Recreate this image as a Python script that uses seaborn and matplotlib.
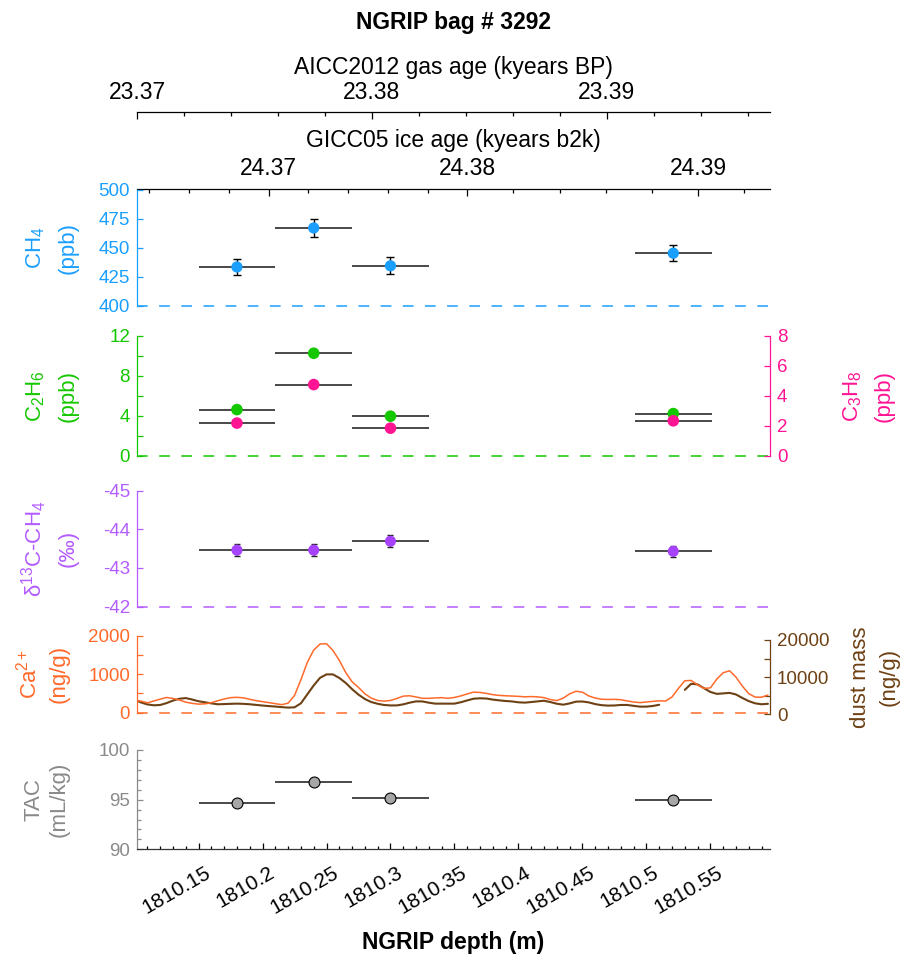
import numpy as np
import pandas as pd
import matplotlib
matplotlib.use("Agg")
import matplotlib.pyplot as plt
import matplotlib.transforms as mtransforms
import seaborn as sns
from matplotlib.ticker import MultipleLocator

# ---------------- data ----------------
bag_top = [1810.15, 1810.21, 1810.27, 1810.491]
bag_bottom = [1810.21, 1810.27, 1810.33, 1810.551]
ch4 = [433.5, 467.0, 434.5, 445.3]
ch4_err = [7.0, 7.5, 7.2, 7.0]
c2h6 = [4.63, 10.25, 3.97, 4.23]
c3h8 = [2.19, 4.75, 1.85, 2.34]
d13c = [-43.46, -43.46, -43.69, -43.43]
d13c_err = [0.15, 0.15, 0.15, 0.15]
tac = [94.63, 96.75, 95.20, 94.96]

cfa_depth = [
    1810.100, 1810.105, 1810.110, 1810.115, 1810.120, 1810.125, 1810.130, 1810.135, 1810.140, 1810.145,
    1810.150, 1810.155, 1810.160, 1810.165, 1810.170, 1810.175, 1810.180, 1810.185, 1810.190, 1810.195,
    1810.200, 1810.205, 1810.210, 1810.215, 1810.220, 1810.225, 1810.230, 1810.235, 1810.240, 1810.245,
    1810.250, 1810.255, 1810.260, 1810.265, 1810.270, 1810.275, 1810.280, 1810.285, 1810.290, 1810.295,
    1810.300, 1810.305, 1810.310, 1810.315, 1810.320, 1810.325, 1810.330, 1810.335, 1810.340, 1810.345,
    1810.350, 1810.355, 1810.360, 1810.365, 1810.370, 1810.375, 1810.380, 1810.385, 1810.390, 1810.395,
    1810.400, 1810.405, 1810.410, 1810.415, 1810.420, 1810.425, 1810.430, 1810.435, 1810.440, 1810.445,
    1810.450, 1810.455, 1810.460, 1810.465, 1810.470, 1810.475, 1810.480, 1810.485, 1810.490, 1810.495,
    1810.500, 1810.505, 1810.510, 1810.515, 1810.520, 1810.525, 1810.530, 1810.535, 1810.540, 1810.545,
    1810.550, 1810.555, 1810.560, 1810.565, 1810.570, 1810.575, 1810.580, 1810.585, 1810.590, 1810.595,
]
ca = [
    323, 297, 253, 301, 349, 393, 367, 327, 271, 240,
    218, 227, 258, 306, 354, 388, 397, 384, 345, 310,
    284, 258, 231, 205, 244, 445, 856, 1310, 1633, 1790,
    1798, 1624, 1362, 1048, 803, 655, 489, 375, 314, 297,
    314, 367, 428, 437, 406, 371, 371, 380, 388, 371,
    393, 434, 486, 533, 524, 499, 466, 447, 437, 430,
    422, 410, 416, 410, 388, 338, 311, 375, 487, 556,
    531, 433, 377, 347, 340, 344, 334, 303, 274, 258,
    274, 291, 305, 299, 405, 629, 829, 838, 722, 631,
    643, 873, 1039, 1091, 925, 690, 493, 402, 400, 457,
]
dust = [
    3947, 3193, 2664, 2422, 2512, 3014, 3696, 4180, 4368, 3974,
    3516, 3229, 2942, 2700, 2754, 2817, 2870, 2817, 2700, 2530,
    2359, 2207, 2090, 1929, 1803, 1875, 2960, 5364, 7768, 9831,
    10746, 10746, 9786, 8450, 6763, 5301, 4108, 3301, 2826, 2503,
    2386, 2395, 2682, 3131, 3480, 3462, 3122, 2870, 2870, 2870,
    2870, 3247, 3740, 4198, 4306, 4243, 3956, 3749, 3579, 3462,
    3229, 3140, 3301, 3480, 3651, 3292, 2843, 2592, 2933, 3409,
    3444, 3202, 2745, 2458, 2341, 2377, 2512, 2512, 2278, 2063,
    2063, 2243, 2556, np.nan, np.nan, np.nan, 6575, 8217, 8046, 7032,
    6019, 5499, 5624, 5768, 5337, 4395, 3552, 2951, 2700, 2826,
]

depth_ticks = [1810.15, 1810.20, 1810.25, 1810.30, 1810.35, 1810.40, 1810.45, 1810.50, 1810.55]
depth_ticklabels = ["1810.15", "1810.2", "1810.25", "1810.3", "1810.35",
                    "1810.4", "1810.45", "1810.5", "1810.55"]
ice_ticks = [24.37, 24.38, 24.39]
gas_ticks = [23.37, 23.38, 23.39]
ice_tie_depth = [1810.10, 1810.36, 1810.60]
ice_tie_age = [24.36326, 24.38, 24.39330]
gas_tie_depth = [1810.10, 1810.60]
gas_tie_age = [23.36990, 23.39713]

# ---------------- style ----------------
sns.set_theme(style="white")
plt.rcParams["font.family"] = ["Liberation Sans", "DejaVu Sans"]
plt.rcParams["mathtext.fontset"] = "custom"
plt.rcParams["mathtext.rm"] = "Liberation Sans"
plt.rcParams["mathtext.it"] = "Liberation Sans:italic"
plt.rcParams["mathtext.bf"] = "Liberation Sans:bold"
plt.rcParams["mathtext.default"] = "regular"
plt.rcParams["axes.unicode_minus"] = False
plt.rcParams["text.color"] = "black"
plt.rcParams["axes.labelcolor"] = "black"
plt.rcParams["xtick.color"] = "black"
plt.rcParams["ytick.color"] = "black"

BLUE = "#1a9fff"
GREEN = "#14c800"
PINK = "#ff1493"
PURPLE = "#a742ff"
PURPLE_AX = "#b35cff"
ORANGE = "#ff6a2a"
BROWN = "#6e4114"
GRAY = "#8a8a8a"
BAR = "#2a2a2a"

XLIM = (1810.1019, 1810.5966)
TICK_FS = 13.5
LAB_FS = 16
TOP_FS = 16.5
LSP = 1.65

fig = plt.figure(figsize=(9.01, 9.58), dpi=100)
L, W = 137 / 901, 633 / 901


def box(top_px, bot_px):
    return [L, 1 - bot_px / 958, W, (bot_px - top_px) / 958]


def style_left(ax, color, ylim):
    for s in ["top", "right", "bottom"]:
        ax.spines[s].set_visible(False)
    ax.spines["left"].set_color(color)
    ax.spines["left"].set_linewidth(0.9)
    ax.set_xlim(XLIM)
    ax.set_ylim(ylim)
    ax.tick_params(axis="y", which="both", colors=color, direction="in", left=True,
                   labelsize=TICK_FS, pad=5)
    ax.tick_params(axis="y", which="major", length=4.5, width=0.9)
    ax.tick_params(axis="y", which="minor", length=4.5, width=0.9)
    ax.tick_params(axis="x", which="both", bottom=False, labelbottom=False)
    ax.set_xlabel("")
    ax.patch.set_alpha(0)


def style_right(ax, color, ylim):
    for s in ["top", "left", "bottom"]:
        ax.spines[s].set_visible(False)
    ax.spines["right"].set_visible(True)
    ax.spines["right"].set_color(color)
    ax.spines["right"].set_linewidth(0.9)
    ax.set_ylim(ylim)
    ax.yaxis.set_ticks_position("right")
    ax.yaxis.set_label_position("right")
    ax.tick_params(axis="y", which="both", colors=color, direction="in", right=True,
                   left=False, labelleft=False, labelright=True, labelsize=TICK_FS,
                   pad=5, length=4.5, width=0.9)
    ax.tick_params(axis="x", which="both", bottom=False, labelbottom=False)
    ax.patch.set_alpha(0)


def dashed_base(ax, y, color):
    ax.axhline(y, color=color, lw=1.1, ls=(0, (7, 7.5)), clip_on=False, zorder=1)


bags = pd.DataFrame({
    "depth": [(a + b) / 2 for a, b in zip(bag_top, bag_bottom)],
    "halfw": [(b - a) / 2 for a, b in zip(bag_top, bag_bottom)],
    "ch4": ch4, "ch4_err": ch4_err, "c2h6": c2h6, "c3h8": c3h8,
    "d13c": d13c, "d13c_err": d13c_err, "tac": tac,
})


def hbars(ax, col):
    ax.errorbar(bags["depth"], bags[col], xerr=bags["halfw"], fmt="none",
                ecolor=BAR, elinewidth=1.2, capsize=0, zorder=2)


# ---------------- CH4 ----------------
ax_ch4 = fig.add_axes(box(189.5, 306))
hbars(ax_ch4, "ch4")
ax_ch4.errorbar(bags["depth"], bags["ch4"], yerr=bags["ch4_err"], fmt="none",
                ecolor="black", elinewidth=1.0, capsize=3, capthick=1.0, zorder=3)
sns.scatterplot(data=bags, x="depth", y="ch4", ax=ax_ch4, color=BLUE, s=66,
                edgecolor="none", zorder=4, legend=False)
style_left(ax_ch4, BLUE, (400, 500))
ax_ch4.set_yticks([400, 425, 450, 475, 500])
dashed_base(ax_ch4, 400, BLUE)
ax_ch4.set_ylabel("CH$_4$\n(ppb)", color=BLUE, fontsize=LAB_FS, linespacing=LSP)
ax_ch4.yaxis.set_label_coords(-0.093, 0.5)


def depth_to_ice(d):
    return np.interp(d, ice_tie_depth, ice_tie_age)


def ice_to_depth(a):
    return np.interp(a, ice_tie_age, ice_tie_depth)


sec = ax_ch4.secondary_xaxis("top", functions=(depth_to_ice, ice_to_depth))
sec.set_xticks(ice_ticks)
sec.set_xticklabels([f"{t:.2f}" for t in ice_ticks])
sec.xaxis.set_minor_locator(MultipleLocator(0.002))
sec.tick_params(axis="x", which="both", direction="in", colors="black", labelsize=TOP_FS,
                pad=7, top=True, width=0.9)
sec.tick_params(axis="x", which="major", length=5)
sec.tick_params(axis="x", which="minor", length=3)
sec.spines["top"].set_color("black")
sec.spines["top"].set_linewidth(0.9)
sec.set_xlabel("GICC05 ice age (kyears b2k)", fontsize=TOP_FS, labelpad=7, color="black")

# ---------------- gas age axis ----------------
ax_gas = fig.add_axes([L, 1 - 112.3 / 958, W, 1e-4])
ax_gas.set_xlim(np.interp(XLIM, gas_tie_depth, gas_tie_age))
for s in ["left", "right", "bottom"]:
    ax_gas.spines[s].set_visible(False)
ax_gas.spines["top"].set_color("black")
ax_gas.spines["top"].set_linewidth(0.9)
ax_gas.set_yticks([])
ax_gas.xaxis.set_ticks_position("top")
ax_gas.xaxis.set_label_position("top")
ax_gas.set_xticks(gas_ticks)
ax_gas.set_xticklabels([f"{t:.2f}" for t in gas_ticks])
ax_gas.xaxis.set_minor_locator(MultipleLocator(0.002))
ax_gas.tick_params(axis="x", which="both", direction="in", top=True, bottom=False,
                   labeltop=True, labelbottom=False, labelsize=TOP_FS, pad=6,
                   colors="black", width=0.9)
ax_gas.tick_params(axis="x", which="major", length=5)
ax_gas.tick_params(axis="x", which="minor", length=3)
ax_gas.set_xlabel("AICC2012 gas age (kyears BP)", fontsize=TOP_FS, labelpad=5, color="black")
ax_gas.patch.set_alpha(0)

# ---------------- C2H6 / C3H8 ----------------
ax_c2 = fig.add_axes(box(335.7, 456))
hbars(ax_c2, "c2h6")
sns.scatterplot(data=bags, x="depth", y="c2h6", ax=ax_c2, color=GREEN, s=70,
                edgecolor="none", zorder=4, legend=False)
style_left(ax_c2, GREEN, (0, 12))
ax_c2.set_yticks([0, 4, 8, 12])
ax_c2.yaxis.set_minor_locator(MultipleLocator(2))
ax_c2.tick_params(axis="y", which="minor", left=True, length=4.5)
dashed_base(ax_c2, 0, GREEN)
ax_c2.set_ylabel("C$_2$H$_6$\n(ppb)", color=GREEN, fontsize=LAB_FS, linespacing=LSP)
ax_c2.yaxis.set_label_coords(-0.093, 0.5)

ax_c3 = ax_c2.twinx()
hbars(ax_c3, "c3h8")
sns.scatterplot(data=bags, x="depth", y="c3h8", ax=ax_c3, color=PINK, s=70,
                edgecolor="none", zorder=4, legend=False)
style_right(ax_c3, PINK, (0, 8))
ax_c3.set_xlim(XLIM)
ax_c3.set_xlabel("")
ax_c3.set_yticks([0, 2, 4, 6, 8])
ax_c3.set_ylabel("C$_3$H$_8$\n(ppb)", color=PINK, fontsize=LAB_FS, rotation=90, va="top",
                 linespacing=1.6)
ax_c3.yaxis.set_label_coords(1.113, 0.5)

# ---------------- d13C ----------------
ax_d = fig.add_axes(box(490.5, 606.7))
hbars(ax_d, "d13c")
ax_d.errorbar(bags["depth"], bags["d13c"], yerr=bags["d13c_err"], fmt="none",
              ecolor="#222222", elinewidth=1.0, capsize=2.5, capthick=1.0, zorder=3)
sns.scatterplot(data=bags, x="depth", y="d13c", ax=ax_d, color=PURPLE, s=64,
                edgecolor="none", zorder=4, legend=False)
style_left(ax_d, PURPLE_AX, (-42, -45))
ax_d.set_yticks([-45, -44, -43, -42])
dashed_base(ax_d, -42, PURPLE_AX)
ax_d.set_ylabel("$\\delta^{13}$C-CH$_4$\n(‰)", color=PURPLE_AX, fontsize=LAB_FS,
                linespacing=1.5)
ax_d.yaxis.set_label_coords(-0.093, 0.5)

# ---------------- Ca / dust ----------------
ax_du = fig.add_axes(box(640, 714.3))
cfa = pd.DataFrame({"depth": cfa_depth, "ca": ca, "dust": dust})
seg = cfa.assign(seg=cfa["dust"].isna().cumsum()).dropna(subset=["dust"])
sns.lineplot(data=seg, x="depth", y="dust", units="seg", estimator=None, ax=ax_du,
             color=BROWN, lw=1.5, zorder=2)
style_right(ax_du, BROWN, (0, 20000))
ax_du.set_xlim(XLIM)
ax_du.set_xlabel("")
ax_du.set_yticks([0, 10000, 20000])
ax_du.yaxis.set_minor_locator(MultipleLocator(5000))
ax_du.tick_params(axis="y", which="minor", right=True, length=4.5, colors=BROWN)
ax_du.set_ylabel("dust mass\n(ng/g)", color=BROWN, fontsize=LAB_FS, rotation=90, va="top",
                 linespacing=1.45)
ax_du.yaxis.set_label_coords(1.127, 0.5)

ax_ca = fig.add_axes(box(636, 712.5))
sns.lineplot(data=cfa, x="depth", y="ca", ax=ax_ca, color=ORANGE, lw=1.1,
             estimator=None, zorder=3)
style_left(ax_ca, ORANGE, (0, 2000))
ax_ca.set_yticks([0, 1000, 2000])
ax_ca.yaxis.set_minor_locator(MultipleLocator(500))
ax_ca.tick_params(axis="y", which="minor", left=True, length=4.5)
dashed_base(ax_ca, 0, ORANGE)
ax_ca.set_ylabel("Ca$^{2+}$\n(ng/g)", color=ORANGE, fontsize=LAB_FS, linespacing=1.45)
ax_ca.yaxis.set_label_coords(-0.107, 0.5)

# ---------------- TAC ----------------
ax_t = fig.add_axes(box(750, 849.3))
hbars(ax_t, "tac")
sns.scatterplot(data=bags, x="depth", y="tac", ax=ax_t, color="#a6a6a6", s=62,
                edgecolor="black", linewidth=0.8, zorder=4, legend=False)
style_left(ax_t, GRAY, (90, 100))
ax_t.set_yticks([90, 95, 100])
ax_t.yaxis.set_minor_locator(MultipleLocator(1))
ax_t.tick_params(axis="y", which="minor", left=True, length=3)
ax_t.spines["bottom"].set_visible(True)
ax_t.spines["bottom"].set_color("#333333")
ax_t.spines["bottom"].set_linewidth(0.9)
ax_t.set_xticks(depth_ticks)
ax_t.set_xticklabels(depth_ticklabels, rotation=30, ha="right", va="top",
                     rotation_mode="anchor")
ax_t.xaxis.set_minor_locator(MultipleLocator(0.01))
ax_t.tick_params(axis="x", which="both", bottom=True, labelbottom=True, direction="in",
                 colors="black", labelsize=15, pad=10, width=0.9)
ax_t.tick_params(axis="x", which="major", length=4.5)
ax_t.tick_params(axis="x", which="minor", length=2.2)
ax_t.set_xlim(XLIM)
ax_t.set_ylabel("TAC\n(mL/kg)", color=GRAY, fontsize=LAB_FS, linespacing=1.25)
ax_t.yaxis.set_label_coords(-0.107, 0.5)

# small rightward nudge of the rotated depth labels (after all tick_params calls)
shift = mtransforms.ScaledTranslation(6 / 100, 0, fig.dpi_scale_trans)
for lbl in ax_t.get_xticklabels():
    lbl.set_transform(lbl.get_transform() + shift)

# ---------------- titles ----------------
fig.text(0.503, 1 - 23 / 958, "NGRIP bag # 3292", ha="center", va="center",
         fontsize=16.5, fontweight="bold", color="black")
fig.text(0.503, 1 - 943 / 958, "NGRIP depth (m)", ha="center", va="center",
         fontsize=16.5, fontweight="bold", color="black")

fig.savefig("out.png", dpi=100)
